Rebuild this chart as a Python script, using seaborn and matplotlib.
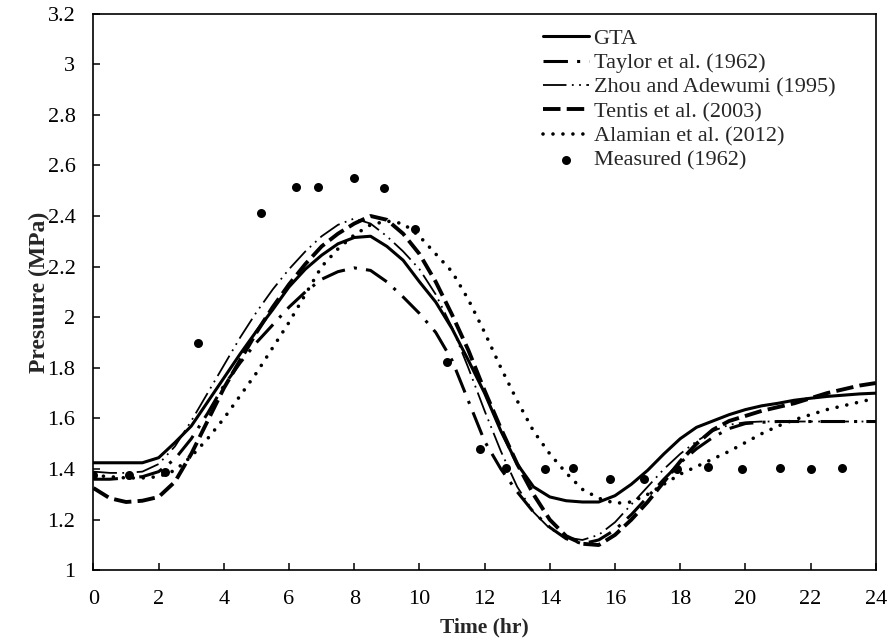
import matplotlib
matplotlib.use("Agg")
import matplotlib.pyplot as plt
import seaborn as sns
import pandas as pd


# time grid of the model curves (hr)
time_hr = [i * 0.5 for i in range(49)]

gta = [1.425, 1.425, 1.425, 1.425, 1.445, 1.505, 1.57, 1.665, 1.76, 1.855,
       1.945, 2.03, 2.12, 2.19, 2.245, 2.29, 2.315, 2.32, 2.28, 2.225,
       2.14, 2.06, 1.955, 1.83, 1.70, 1.55, 1.42, 1.33, 1.29, 1.275,
       1.27, 1.27, 1.295, 1.34, 1.395, 1.46, 1.52, 1.565, 1.59, 1.615,
       1.635, 1.65, 1.66, 1.672, 1.68, 1.687, 1.692, 1.697, 1.70]

taylor = [1.36, 1.36, 1.365, 1.37, 1.39, 1.44, 1.52, 1.62, 1.73, 1.82,
          1.90, 1.97, 2.04, 2.10, 2.15, 2.18, 2.195, 2.185, 2.14, 2.08,
          2.015, 1.94, 1.83, 1.67, 1.51, 1.40, 1.31, 1.23, 1.17, 1.125,
          1.105, 1.12, 1.16, 1.22, 1.29, 1.36, 1.425, 1.48, 1.525, 1.56,
          1.58, 1.585, 1.588, 1.588, 1.588, 1.588, 1.588, 1.588, 1.588]

zhou = [1.39, 1.385, 1.385, 1.39, 1.42, 1.49, 1.59, 1.70, 1.81, 1.92,
        2.02, 2.11, 2.19, 2.26, 2.32, 2.365, 2.39, 2.37, 2.32, 2.26,
        2.19, 2.09, 1.96, 1.80, 1.63, 1.47, 1.33, 1.23, 1.165, 1.13,
        1.12, 1.14, 1.19, 1.26, 1.33, 1.40, 1.46, 1.51, 1.55, 1.575,
        1.585, 1.588, 1.588, 1.588, 1.588, 1.588, 1.588, 1.588, 1.588]

tentis = [1.325, 1.285, 1.27, 1.275, 1.29, 1.35, 1.46, 1.59, 1.72, 1.83,
          1.94, 2.04, 2.13, 2.21, 2.28, 2.33, 2.37, 2.40, 2.385, 2.33,
          2.25, 2.14, 2.01, 1.87, 1.71, 1.56, 1.42, 1.30, 1.20, 1.135,
          1.105, 1.10, 1.14, 1.20, 1.27, 1.35, 1.43, 1.50, 1.555, 1.59,
          1.61, 1.63, 1.645, 1.66, 1.68, 1.70, 1.715, 1.73, 1.74]

alamian = [1.375, 1.37, 1.365, 1.365, 1.37, 1.395, 1.45, 1.52, 1.60, 1.69,
           1.78, 1.88, 1.98, 2.09, 2.20, 2.27, 2.325, 2.365, 2.38, 2.37,
           2.32, 2.25, 2.18, 2.07, 1.94, 1.80, 1.67, 1.55, 1.46, 1.385,
           1.32, 1.285, 1.265, 1.27, 1.30, 1.34, 1.38, 1.41, 1.44, 1.47,
           1.505, 1.54, 1.57, 1.595, 1.615, 1.635, 1.65, 1.665, 1.68]

# measured field data (1962)
meas_time = [0, 1.1, 2.2, 3.2, 5.15, 6.2, 6.9, 8.0, 8.9, 9.85, 10.85, 11.85,
             12.65, 13.85, 14.7, 15.85, 16.9, 17.9, 18.85, 19.9, 21.05, 22.0, 22.95]
meas_p = [1.375, 1.375, 1.39, 1.9, 2.41, 2.515, 2.515, 2.55, 2.51, 2.35, 1.825, 1.48,
          1.405, 1.4, 1.405, 1.36, 1.36, 1.40, 1.41, 1.40, 1.405, 1.40, 1.405]

x_ticks = list(range(0, 25, 2))
y_ticks = [1, 1.2, 1.4, 1.6, 1.8, 2, 2.2, 2.4, 2.6, 2.8, 3, 3.2]
y_tick_labels = ['1', '1.2', '1.4', '1.6', '1.8', '2', '2.2', '2.4', '2.6', '2.8', '3', '3.2']

series = {
    'GTA': gta,
    'Taylor et al. (1962)': taylor,
    'Zhou and Adewumi (1995)': zhou,
    'Tentis et al. (2003)': tentis,
    'Alamian et al. (2012)': alamian,
}

# line styles (width, dash pattern)
styles = {
    'GTA': dict(lw=2.2, linestyle='-'),
    'Taylor et al. (1962)': dict(lw=2.2, linestyle=(0, (8, 3, 1, 3))),
    'Zhou and Adewumi (1995)': dict(lw=1.3, linestyle=(0, (13, 3, 1, 3, 1, 3))),
    'Tentis et al. (2003)': dict(lw=2.8, linestyle=(0, (4.5, 1.6))),
    'Alamian et al. (2012)': dict(lw=2.6, linestyle=(0, (0.01, 2.75)), dash_capstyle='round'),
}

sns.set_style("ticks")
plt.rcParams['font.family'] = ['Liberation Serif', 'DejaVu Serif']

fig = plt.figure(figsize=(8.92, 6.43), dpi=100)
ax = fig.add_axes([0.1048, 0.113, 0.877, 0.866])

for name, values in series.items():
    df = pd.DataFrame({'t': time_hr, 'p': values})
    sns.lineplot(data=df, x='t', y='p', ax=ax, color='black', label=name,
                 estimator=None, sort=False, **styles[name])

sns.scatterplot(x=meas_time, y=meas_p, ax=ax, color='black', s=42,
                edgecolor='black', linewidth=0, label='Measured (1962)', zorder=5)

ax.set_xlim(0, 24)
ax.set_ylim(1, 3.2)
ax.set_xticks(x_ticks)
ax.set_yticks(y_ticks)
ax.set_yticklabels(y_tick_labels)
ax.tick_params(direction='in', length=5, width=1.1, labelsize=16, colors='black')
ax.tick_params(axis='x', pad=14)
ax.tick_params(axis='y', pad=13)
for sp in ax.spines.values():
    sp.set_linewidth(1.2)
    sp.set_color('black')

ax.set_xlabel('Time (hr)', fontsize=15.5, fontweight='bold', labelpad=6)
ax.set_ylabel('Presuure (MPa)', fontsize=17, fontweight='bold', labelpad=-2)

ax.legend(loc='upper left', bbox_to_anchor=(0.574, 0.973), frameon=False,
          fontsize=16, handlelength=2.1, handletextpad=0.2, labelspacing=0.17,
          borderaxespad=0, borderpad=0)

fig.savefig('out.png', dpi=100)
